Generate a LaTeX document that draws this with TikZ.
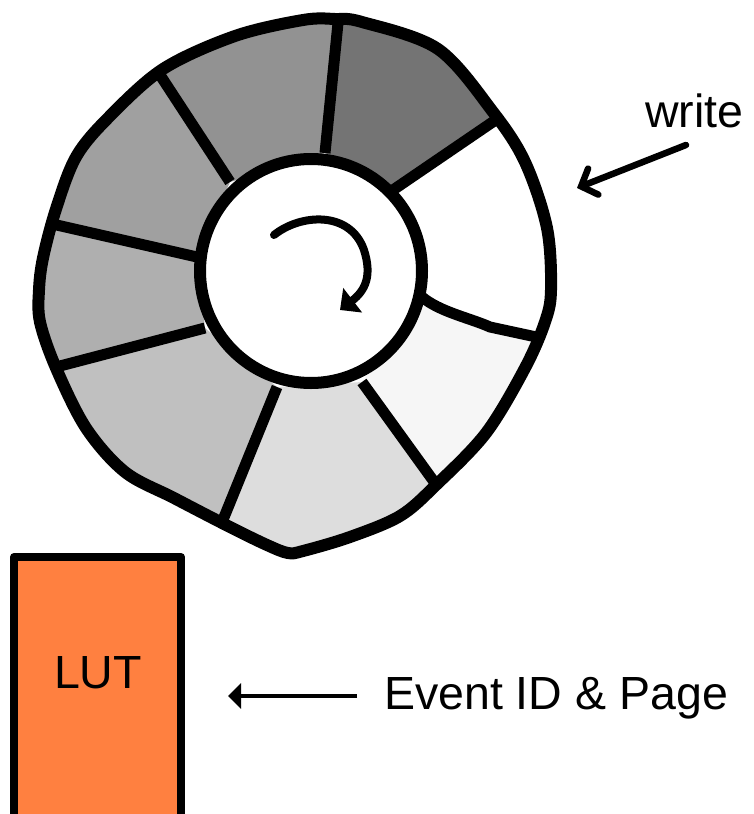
\documentclass[tikz,border=0pt]{standalone}
\usepackage{fontspec}
\setmainfont{Liberation Sans}
\usetikzlibrary{arrows.meta}
\definecolor{lutorange}{RGB}{255,128,64}
\definecolor{segA}{RGB}{116,116,116}
\definecolor{segB}{RGB}{255,255,255}
\definecolor{segC}{RGB}{246,246,246}
\definecolor{segD}{RGB}{221,221,221}
\definecolor{segE}{RGB}{192,192,192}
\definecolor{segF}{RGB}{175,175,175}
\definecolor{segG}{RGB}{160,160,160}
\definecolor{segH}{RGB}{146,146,146}
\tikzset{
  ringline/.style={draw=black, line width=12pt},
  divider/.style={draw=black, line width=11pt},
  label/.style={font=\fontsize{46.5}{52}\selectfont, inner sep=0pt},
}
% outline of the ring buffer, as a closed freehand curve
\def\outerring{plot[smooth cycle, tension=0.55] coordinates {
  (303,20) (335,19) (362,22) (438,49) (493,112) (525,162) (547,228)
  (551,290) (545,322) (525,368) (486,433) (436,485) (400,516) (350,537)
  (303,551) (288,553) (267,545) (230,527) (174,498) (125,472) (86,428)
  (56,368) (40,322) (39,290) (43,258) (56,209) (76,157) (108,118)
  (163,69) (235,36)}}
\begin{document}
\begin{tikzpicture}[x=1pt, y=-1pt, line join=round]
\clip (0,0) rectangle (753,814);
\fill[white] (0,0) rectangle (753,814);

% ring segments and their dividers, clipped to the outline
\begin{scope}
  \clip \outerring;
  \fill[segA] (325,153) -- (338,23) -- (346,-57) -- (560,-100) -- (566,72)
     -- (500,117) -- (393,190) -- cycle;
  \fill[segB] (393,190) -- (500,117) -- (566,72) -- (750,200) -- (615,354)
     -- (537,337) -- (490,327) -- (447,313) -- (422,297) -- cycle;
  \fill[segC] (422,297) -- (447,313) -- (490,327) -- (537,337) -- (615,354)
     -- (650,600) -- (487,555) -- (440,490) -- (362,382) -- cycle;
  \fill[segD] (362,382) -- (440,490) -- (487,555) -- (330,750) -- (190,601)
     -- (220,527) -- (277,387) -- cycle;
  \fill[segE] (277,387) -- (220,527) -- (190,601) -- (0,650) -- (-24,388)
     -- (53,368) -- (205,328) -- cycle;
  \fill[segF] (205,328) -- (53,368) -- (-24,388) -- (-150,300) -- (-31,205)
     -- (47,223) -- (197,257) -- cycle;
  \fill[segG] (197,257) -- (47,223) -- (-31,205) -- (-50,50) -- (113,3)
     -- (157,70) -- (230,182) -- cycle;
  \fill[segH] (230,182) -- (157,70) -- (113,3) -- (220,-120) -- (346,-57)
     -- (338,23) -- (325,153) -- cycle;

  \draw[divider] (325,153) -- (346,-57);
  \draw[divider] (230,182) -- (113,3);
  \draw[divider] (197,257) -- (-31,205);
  \draw[divider] (205,328) -- (-24,388);
  \draw[divider] (277,387) -- (190,601);
  \draw[divider] (362,382) -- (487,555);
  \draw[divider] (422,297) .. controls (440,312) and (470,318) .. (490,327)
     -- (615,354);
  \draw[divider] (393,190) -- (566,72);
\end{scope}

% hub
\fill[white] (311,271) ellipse [x radius=111, y radius=112];

% outlines
\draw[ringline] \outerring;
\draw[ringline] (311,271) ellipse [x radius=111, y radius=112];

% rotation arrow in the hub
\coordinate (rotstart) at (274,235);
\coordinate (rotend) at (340,310);
\draw[line width=8pt, line cap=round, -{Triangle[length=16pt,width=30pt]}]
  (rotstart) .. controls (300,214) and (350,210) .. (364,250)
  .. controls (372,275) and (366,290) .. (rotend);

% write pointer
\node[label, anchor=base west] (write) at (645,127) {write};
\coordinate (wtail) at (686,145);
\coordinate (whead) at (577,188);
\draw[line width=6.5pt, line cap=round,
      -{Straight Barb[length=13pt,width=28pt,line cap=round]}]
  (wtail) -- (whead);

% lookup table
\draw[draw=black, line width=8pt, fill=lutorange] (14,557) rectangle (181,840);
\node[label] (lut) at (98,673) {LUT};

% event input
\node[label, anchor=base west] (event) at (384,709) {Event ID \& Page};
\coordinate (etail) at (357,696);
\coordinate (ehead) at (228,696);
\draw[line width=4.5pt, -{Triangle[length=13pt,width=25pt]}] (etail) -- (ehead);
\end{tikzpicture}
\end{document}
